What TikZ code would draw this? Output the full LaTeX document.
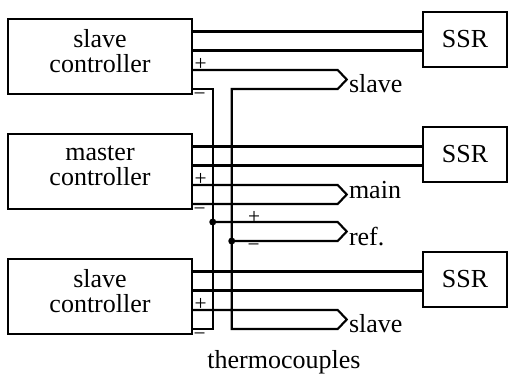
\documentclass[tikz,border=0pt]{standalone}
\usepackage{fontspec}
\setmainfont{Liberation Serif}
\usetikzlibrary{calc}

\tikzset{
  ctrl/.style={draw, line width=1.1pt, minimum width=138pt, minimum height=56.25pt, inner sep=0pt,
    align=center, font=\fontsize{19.5pt}{18.75pt}\selectfont, text depth=8.8pt},
  ssrbox/.style={draw, line width=1.1pt, minimum width=63pt, minimum height=41.25pt, inner sep=0pt,
    font=\fontsize{19.5pt}{18.75pt}\selectfont},
  wire/.style={line width=1.6pt},
  lbl/.style={font=\fontsize{19.5pt}{18.75pt}\selectfont, inner sep=0pt, anchor=base west},
  sgn/.style={font=\fontsize{16pt}{16pt}\selectfont, inner sep=0pt},
}

\begin{document}
\begin{tikzpicture}[x=0.75pt,y=-0.75pt]
\useasboundingbox (0,0) rectangle (508,376);

\node[ctrl] (sc1) at (100,56.5) {slave\\controller};
\node[ctrl] (mc) at (100,171.5) {master\\controller};
\node[ctrl] (sc2) at (100,296.5) {slave\\controller};
\node[ssrbox] (ssr1) at (465,39.5) {SSR};
\node[ssrbox] (ssr2) at (465,154.5) {SSR};
\node[ssrbox] (ssr3) at (465,279.5) {SSR};

% terminals of the controllers
\foreach \c in {sc1,mc,sc2}{
  \coordinate (\c-a) at ($(\c.east)+(0,-25)$);
  \coordinate (\c-b) at ($(\c.east)+(0,-6)$);
  \coordinate (\c-p) at ($(\c.east)+(0,13.5)$);
  \coordinate (\c-m) at ($(\c.east)+(0,32.5)$);
}

% outputs to the SSRs
\draw[wire] (sc1-a) -- (sc1-a -| ssr1.west);
\draw[wire] (sc1-b) -- (sc1-b -| ssr1.west);
\draw[wire] (mc-a) -- (mc-a -| ssr2.west);
\draw[wire] (mc-b) -- (mc-b -| ssr2.west);
\draw[wire] (sc2-a) -- (sc2-a -| ssr3.west);
\draw[wire] (sc2-b) -- (sc2-b -| ssr3.west);

% common lines
\coordinate (bus1top) at ($(sc1-m)+(20,0)$);
\coordinate (bus2top) at ($(sc1-m)+(39,0)$);
\coordinate (bus1bot) at ($(sc2-m)+(20,0)$);
\coordinate (bus2bot) at ($(sc2-m)+(39,0)$);
\draw[wire] (sc1-m) -- (bus1top) -- (bus1bot) -- (sc2-m);

% thermocouples
\draw[wire] (sc1-p) -- ++(145,0) -- ++(9,9.5) -- ++(-9,9.5) -- (bus2top)
  -- (bus2bot) -- ++(106,0) -- ++(9,-9.5) -- ++(-9,-9.5) -- (sc2-p);
\draw[wire] (mc-p) -- ++(145,0) -- ++(9,9.5) -- ++(-9,9.5) -- (mc-m);
\coordinate (refp) at ($(mc-m)+(20,18)$);
\coordinate (refm) at ($(mc-m)+(39,37)$);
\draw[wire] (refp) -- ++(125,0) -- ++(9,9.5) -- ++(-9,9.5) -- (refm);
\fill (refp) circle (2.6pt);
\fill (refm) circle (2.6pt);

% polarity
\foreach \c in {sc1,mc,sc2}{
  \node[sgn] at ($(\c-p)+(8,-6)$) {+};
  \node[sgn] at ($(\c-m)+(7,7.5)$) {−};
}
\node[sgn] at ($(refp)+(41.5,-5)$) {+};
\node[sgn] at ($(refm)+(22,7)$) {−};

\node[lbl] (lslave1) at ($(sc1-p)+(156,22)$) {slave};
\node[lbl] (lmain) at ($(mc-p)+(156,13)$) {main};
\node[lbl] (lref) at ($(refp)+(136,23)$) {ref.};
\node[lbl] (lslave2) at ($(sc2-p)+(156,22)$) {slave};
\node[font=\fontsize{19.5pt}{18.75pt}\selectfont, inner sep=0pt, anchor=base] (tc) at (284,368) {thermocouples};
\end{tikzpicture}
\end{document}
